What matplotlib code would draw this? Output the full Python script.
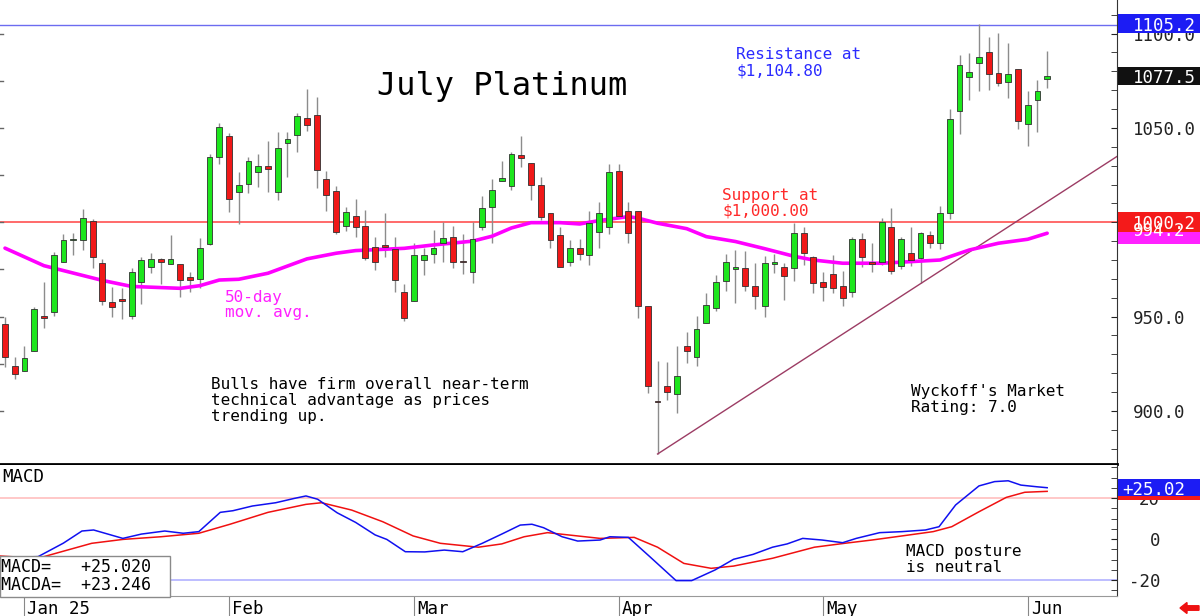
import matplotlib
matplotlib.use('Agg')
import matplotlib.pyplot as plt
from matplotlib.patches import Rectangle, FancyArrow
from matplotlib.transforms import blended_transform_factory
import numpy as np

plt.rcParams['font.family'] = ['DejaVu Sans Mono', 'DejaVu Sans']

# daily OHLC
opens = [946.1, 923.9, 921.4, 932.0, 949.9, 952.3, 979.2, 990.5, 990.5, 1000.7,
         978.5, 958.0, 959.0, 950.5, 968.2, 976.2, 980.6, 977.8, 977.8, 971.0,
         970.0, 988.4, 1034.5, 1045.9, 1016.2, 1020.3, 1026.5, 1030.0, 1015.9, 1042.2,
         1046.3, 1055.1, 1056.7, 1023.1, 1016.8, 998.2, 1003.4, 998.2, 986.9, 988.0,
         985.9, 963.1, 958.3, 980.0, 983.4, 988.9, 992.1, 979.7, 973.9, 997.7,
         1008.0, 1021.9, 1019.4, 1035.7, 1031.3, 1019.6, 1004.8, 993.3, 979.2, 986.2,
         982.7, 995.0, 997.7, 1027.2, 1006.0, 1006.0, 955.7, 905.5, 913.0, 908.9,
         934.6, 928.5, 946.8, 954.5, 969.1, 975.5, 975.7, 966.0, 955.7, 977.9,
         976.5, 975.7, 994.2, 981.5, 968.6, 972.5, 966.0, 963.3, 991.0, 978.5,
         979.2, 997.7, 976.9, 983.6, 981.0, 993.3, 988.9, 1004.8, 1059.2, 1077.2,
         1084.3, 1090.1, 1079.3, 1074.5, 1081.1, 1052.1, 1064.8, 1075.8]
highs = [949.8, 928.6, 934.6, 955.0, 968.5, 984.4, 993.8, 994.2, 1007.1, 1001.6,
         980.6, 965.6, 965.0, 976.0, 981.8, 983.9, 981.0, 993.0, 977.8, 973.5,
         991.6, 1036.2, 1052.5, 1047.2, 1026.5, 1034.8, 1036.2, 1043.1, 1048.0, 1047.7,
         1057.8, 1070.5, 1066.3, 1027.2, 1019.4, 1008.3, 1012.2, 1006.4, 992.4, 1004.8,
         992.4, 967.2, 988.9, 986.2, 995.9, 1000.0, 998.1, 993.8, 1000.3, 1014.0,
         1022.8, 1032.5, 1037.4, 1045.8, 1031.3, 1024.2, 1004.8, 997.4, 990.6, 991.0,
         1006.0, 1011.0, 1030.9, 1031.0, 1011.0, 1006.0, 955.7, 926.7, 925.8, 934.5,
         942.0, 950.4, 962.7, 972.1, 983.2, 985.3, 985.0, 978.6, 982.2, 983.2,
         978.3, 999.8, 997.7, 982.2, 973.8, 982.7, 974.4, 992.4, 994.2, 988.9,
         1002.2, 1007.4, 992.4, 997.4, 995.0, 995.6, 1008.7, 1059.9, 1088.7, 1089.6,
         1105.2, 1098.0, 1100.2, 1094.9, 1081.1, 1069.8, 1075.4, 1091.0]
lows = [923.3, 917.0, 921.0, 932.0, 943.9, 950.5, 979.0, 982.7, 985.3, 975.6,
        956.2, 949.7, 948.8, 948.8, 956.7, 973.0, 967.3, 977.8, 960.6, 962.9,
        965.0, 988.0, 1030.8, 1005.6, 999.1, 1015.4, 1018.9, 1016.2, 1011.8, 1024.2,
        1037.4, 1048.6, 1018.4, 1006.2, 993.8, 995.6, 992.4, 980.0, 974.7, 981.8,
        963.3, 947.9, 958.3, 972.1, 978.3, 979.2, 976.0, 972.6, 967.7, 996.0,
        988.9, 1021.9, 1017.1, 1029.5, 1011.8, 1001.2, 986.2, 976.2, 976.9, 980.0,
        977.4, 986.2, 993.8, 1002.2, 988.9, 949.2, 909.4, 877.2, 905.9, 898.8,
        925.3, 923.9, 946.8, 953.2, 963.8, 957.4, 963.8, 953.9, 950.0, 973.3,
        958.9, 969.1, 977.4, 962.4, 958.5, 962.4, 955.7, 960.6, 976.2, 973.9,
        977.4, 972.6, 975.2, 976.9, 967.7, 986.2, 985.7, 1001.6, 1046.8, 1064.8,
        1069.8, 1070.1, 1072.3, 1065.7, 1049.3, 1040.5, 1048.0, 1071.0]
closes = [928.6, 919.6, 928.0, 954.1, 949.5, 982.7, 990.5, 991.0, 1002.1, 981.5,
          958.2, 955.3, 958.2, 973.7, 980.2, 980.6, 979.2, 980.6, 969.4, 969.6,
          986.3, 1034.8, 1050.7, 1012.2, 1019.8, 1032.7, 1029.7, 1028.1, 1039.6, 1044.3,
          1056.4, 1051.6, 1027.9, 1014.7, 994.7, 1005.6, 997.5, 981.3, 979.2, 986.9,
          969.4, 949.1, 982.7, 982.7, 986.2, 991.5, 978.7, 978.7, 991.2, 1007.4,
          1017.1, 1023.7, 1036.2, 1033.9, 1019.8, 1003.0, 990.6, 976.2, 986.2, 983.2,
          999.5, 1004.8, 1026.4, 1003.4, 994.2, 955.7, 913.3, 904.5, 910.0, 918.6,
          931.8, 943.3, 956.2, 968.5, 978.8, 976.0, 966.0, 961.0, 978.3, 978.8,
          971.6, 994.2, 983.9, 968.0, 965.6, 965.0, 959.7, 991.0, 981.8, 978.0,
          1000.3, 974.4, 991.0, 980.0, 994.2, 988.9, 1004.8, 1054.6, 1083.4, 1079.9,
          1087.5, 1078.5, 1073.7, 1078.6, 1053.9, 1062.2, 1069.8, 1077.5]

# 50-day moving average (bar index, value)
ma_idx = [0, 4, 10, 13, 18, 20, 22, 24, 27, 31, 34, 36, 41, 44, 48, 50, 52, 54, 57, 59,
          61, 64, 65, 67, 70, 72, 75, 78, 81, 83, 86, 90, 96, 99, 102, 105, 107]
ma_val = [986.3, 977.0, 969.2, 966.0, 965.0, 966.4, 969.4, 969.8, 973.0, 980.6,
          983.6, 985.0, 986.2, 988.0, 990.0, 992.6, 997.0, 999.8, 999.8, 999.1,
          1000.9, 1003.0, 1002.2, 999.5, 996.6, 992.4, 989.8, 986.0, 982.0, 980.0,
          978.3, 978.3, 980.0, 985.3, 988.9, 991.0, 994.2]

# MACD (blue) and its average (red)
macd_idx = [0, 3.4, 6.0, 7.9, 9.1, 12.1, 14.0, 16.4, 18.3, 19.9, 22.1, 23.4, 25.4, 27.8,
            29.7, 30.9, 32.1, 34.1, 36.0, 38.0, 39.2, 41.1, 43.1, 45.1, 47.0, 49.0, 51.0,
            52.9, 54.1, 55.3, 57.2, 58.8, 61.1, 62.1, 64.0, 66.2, 68.9, 70.5, 72.9, 74.8,
            76.8, 78.8, 80.3, 81.9, 83.9, 86.0, 87.4, 89.8, 92.1, 94.5, 95.9, 97.6, 100.0,
            101.6, 103.0, 104.3, 105.9, 107.0]
macd_val = [-9.0, -8.6, -2.0, 3.9, 4.4, 0.3, 2.4, 3.9, 2.8, 3.6, 13.0, 13.8, 16.1, 17.7,
            19.8, 21.0, 19.4, 12.8, 8.1, 2.0, -0.2, -6.2, -6.3, -5.4, -6.2, -2.1, 2.4,
            6.8, 7.2, 5.5, 1.1, -1.0, -0.5, 1.1, 0.8, -8.6, -20.3, -20.3, -15.1, -9.9,
            -7.5, -4.0, -2.4, 0.3, -0.5, -1.8, 0.3, 3.1, 3.6, 4.4, 6.0, 16.6, 25.9,
            28.0, 28.4, 26.3, 25.5, 25.02]
sig_idx = [-0.5, 3.4, 5.8, 8.9, 12.1, 16.0, 19.9, 23.1, 27.0, 30.9, 32.5, 35.6, 38.8,
           41.9, 44.7, 48.6, 51.0, 53.3, 55.7, 61.1, 64.6, 67.0, 69.7, 72.5, 74.8, 78.8,
           83.1, 86.2, 89.0, 92.1, 95.3, 97.2, 100.0, 102.8, 104.7, 107.0]
sig_val = [-8.3, -9.4, -6.2, -2.1, -0.2, 1.1, 2.8, 7.2, 13.0, 16.9, 17.7, 14.1, 8.4,
           1.5, -2.1, -4.0, -2.4, 1.1, 3.1, 0.3, 0.8, -4.0, -11.9, -14.3, -13.2, -9.4,
           -4.0, -2.1, -0.5, 1.5, 3.6, 6.0, 13.3, 20.3, 22.8, 23.246]

month_idx = [2, 23, 42, 63, 84, 105]
month_lbl = ['Jan 25', 'Feb', 'Mar', 'Apr', 'May', 'Jun']

price_ticks = [900, 950, 1050, 1100]   # 1000.0 sits under the support tag
resistance = 1104.8
support = 1000.2
trend_idx = [67, 114.2]
trend_val = [877.2, 1035.0]

W, H = 1200, 616
fig = plt.figure(figsize=(12, 6.16), dpi=100)
ax = fig.add_axes([0, 152 / H, 1117 / W, 464 / H])
ax2 = fig.add_axes([0, 20 / H, 1117 / W, 131 / H])

x = np.arange(len(closes))
o = np.array(opens)
c = np.array(closes)
up = c >= o
body_bot = np.minimum(o, c)
body_h = np.maximum(np.abs(c - o), 0.9)
cols = np.where(up, '#1de61d', '#f01818')

ax.vlines(x, lows, highs, color='#8c8c8c', lw=1, zorder=2)
ax.plot(ma_idx, ma_val, color='#ff00ff', lw=2.6, zorder=2.5, solid_capstyle='round')
ax.bar(x, body_h, bottom=body_bot, width=0.6, color=cols, edgecolor='#303030',
       linewidth=0.6, zorder=3)
ax.axhline(resistance, color='#6c6cf0', lw=1, zorder=1)
ax.axhline(support, color='#ff5050', lw=1.2, zorder=1)
ax.plot(trend_idx, trend_val, color='#9c3c64', lw=1, zorder=2)

ax.set_xlim(-0.513, 114.17)
ax.set_ylim(871.9, 1117.8)
ax.set_xticks([])
ax.yaxis.tick_right()
ax.set_yticks(price_ticks)
ax.set_yticklabels(['%.1f' % v for v in price_ticks])
ax.set_yticks(np.arange(880, 1120, 10), minor=True)
ax.tick_params(axis='y', which='both', direction='in', length=4, pad=11.5,
               labelsize=12.5, colors='#222222')
for s in ['top', 'left']:
    ax.spines[s].set_visible(False)
ax.spines['bottom'].set_linewidth(2)
ax.spines['right'].set_color('#333333')
for v in range(900, 1101, 25):
    ax.plot([-0.513, -0.2], [v, v], color='#666666', lw=1, clip_on=False)

# value tags on the right
tr = blended_transform_factory(ax.transAxes, ax.transData)
def tag(a, trans, val, half, txt, fc, px, ty=None):
    a.add_patch(Rectangle((1.0008, val - half), 82 / 1117, 2 * half, transform=trans,
                          fc=fc, ec='none', clip_on=False, zorder=5))
    if txt:
        a.text(px / 1117, val if ty is None else ty, txt, transform=trans, color='white',
               fontsize=12.5, va='center_baseline', ha='left', zorder=5.5, clip_on=False)

tag(ax, tr, ma_val[-1], 5.5, '%.1f' % ma_val[-1], '#ff22ff', 1133, ty=ma_val[-1] + 2.5)
tag(ax, tr, support, 5.3, '%.1f' % support, '#f41a1a', 1133)
tag(ax, tr, closes[-1], 4.8, '%.1f' % closes[-1], '#111111', 1133)
tag(ax, tr, max(highs), 5.0, '%.1f' % max(highs), '#1c1cf4', 1133)

# MACD panel
ax2.plot(sig_idx, sig_val, color='#f01010', lw=1.1, zorder=3)
ax2.plot(macd_idx, macd_val, color='#1010f0', lw=1.1, zorder=3)
ax2.axhline(20, color='#ffc4c4', lw=1.3, zorder=1)
ax2.axhline(-20, color='#b8b8ff', lw=1.3, zorder=1)
ax2.set_xlim(-0.513, 114.17)
ax2.set_ylim(-27.8, 36.1)
ax2.yaxis.tick_right()
ax2.set_yticks([-20, 0, 20])
ax2.set_yticklabels(['-20', '0', '20'])
ax2.set_yticks(np.arange(-25, 36, 5), minor=True)
ax2.tick_params(axis='y', which='both', direction='in', length=4, pad=31,
                labelsize=12.5, colors='#222222')
for lab in ax2.get_yticklabels():
    lab.set_ha('right')
ax2.set_xticks(month_idx)
ax2.tick_params(axis='x', direction='out', length=14.4, color='#888888',
                labelbottom=False)
for s in ['top', 'left']:
    ax2.spines[s].set_visible(False)
ax2.spines['bottom'].set_color('#999999')
ax2.spines['right'].set_color('#333333')
for i, lbl in zip(month_idx, month_lbl):
    ax2.annotate(lbl, xy=(i, 0), xycoords=('data', 'axes fraction'), xytext=(3, -4),
                 textcoords='offset pixels', ha='left', va='top', fontsize=12.5,
                 annotation_clip=False)

tr2 = blended_transform_factory(ax2.transAxes, ax2.transData)
tag(ax2, tr2, sig_val[-1], 4.2, '', '#f41a1a', 1122)
tag(ax2, tr2, macd_val[-1], 4.2, '%+.2f' % macd_val[-1], '#1c1cf4', 1122)

ax2.add_patch(Rectangle((0, -1 / 131), 169.5 / 1117, 41 / 131, transform=ax2.transAxes,
                        fc='white', ec='#8a8a8a', lw=1, zorder=6, clip_on=False))
ax2.text(0.001, 24 / 131, 'MACD=   %+.3f' % macd_val[-1], transform=ax2.transAxes,
         fontsize=12, va='baseline', zorder=7)
ax2.text(0.001, 6 / 131, 'MACDA=  %+.3f' % sig_val[-1], transform=ax2.transAxes,
         fontsize=12, va='baseline', zorder=7)

# annotations (figure pixel positions, baselines)
def note(px, py, lines, color='black', size=11.5, step=16):
    for k, s in enumerate(lines):
        fig.text(px / W, 1 - (py + k * step) / H, s, color=color, fontsize=size,
                 va='baseline', ha='left')

note(377, 95, ['July Platinum'], size=23)
note(736, 59, ['Resistance at', '$1,104.80'], color='#2b2bff')
note(722, 200, ['Support at', '$1,000.00'], color='#ff2a2a', step=15.5)
note(225, 302, ['50-day', 'mov. avg.'], color='#ff20ff', step=15.5)
note(211, 389, ['Bulls have firm overall near-term', 'technical advantage as prices',
                'trending up.'])
note(911, 396, ["Wyckoff's Market", 'Rating: 7.0'])
note(906, 556, ['MACD posture', 'is neutral'])
note(2, 482, ['MACD'], size=12.5)

fig.add_artist(FancyArrow(11.99, 0.08, -0.12, 0, width=0.045, head_width=0.11,
                          head_length=0.07, color='#ee1111',
                          transform=fig.dpi_scale_trans))

fig.savefig('out.png', dpi=100)
